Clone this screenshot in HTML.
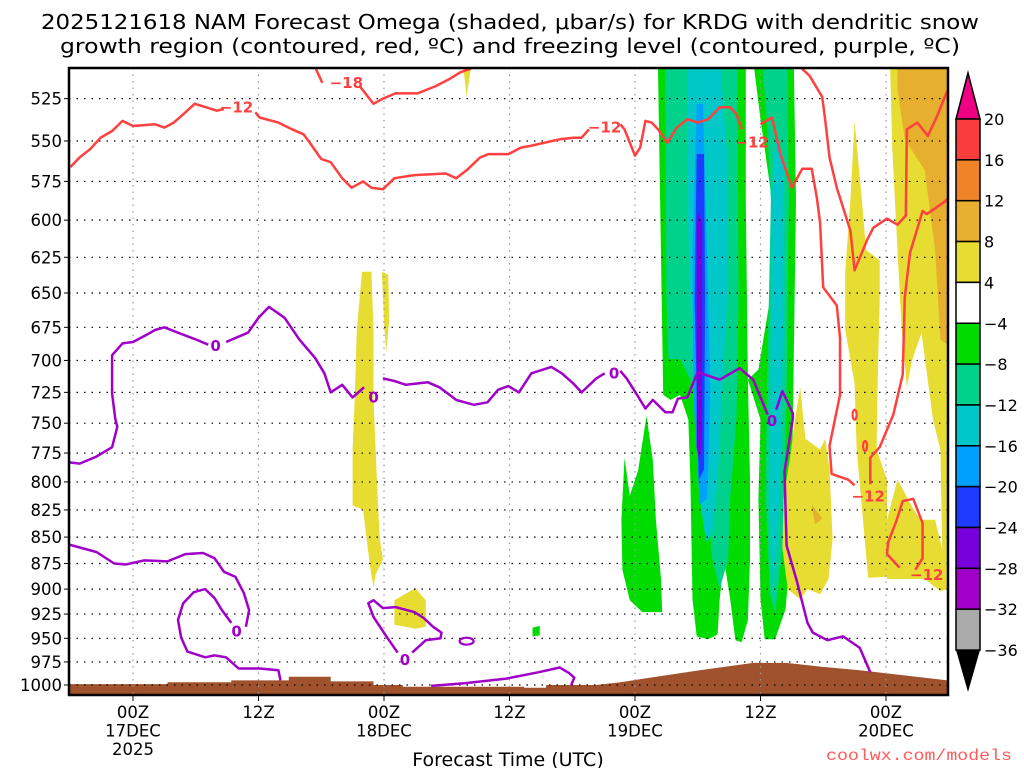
<!DOCTYPE html>
<html><head><meta charset="utf-8">
<style>
html,body{margin:0;padding:0;background:#fff;}
svg{display:block;font-family:"DejaVu Sans","Liberation Sans",sans-serif;}
</style></head>
<body>
<svg id="chart" width="1024" height="768" viewBox="0 0 1024 768" xmlns="http://www.w3.org/2000/svg">
<defs><clipPath id="plotclip"><rect x="69" y="68" width="879" height="627"/></clipPath></defs>
<text x="510" y="29" font-size="20" text-anchor="middle" textLength="938" lengthAdjust="spacingAndGlyphs">2025121618 NAM Forecast Omega (shaded, μbar/s) for KRDG with dendritic snow</text>
<text x="510" y="53" font-size="20" text-anchor="middle" textLength="900" lengthAdjust="spacingAndGlyphs">growth region (contoured, red, ºC) and freezing level (contoured, purple, ºC)</text>
<g id="shade" clip-path="url(#plotclip)"></g>
<g id="terrain" clip-path="url(#plotclip)"></g>
<g id="grid"></g>
<g id="contours" clip-path="url(#plotclip)"></g>
<g id="axes"></g>
<g id="cbar"></g>
<text x="508" y="766" font-size="19" text-anchor="middle">Forecast Time (UTC)</text>
<text x="1012" y="760" font-size="16" text-anchor="end" fill="#ff5a5a" textLength="186" lengthAdjust="spacingAndGlyphs" font-family="Liberation Mono, monospace">coolwx.com/models</text>
</svg>
<script>
// ---- axis data ----
const pressureTicks=[525,550,575,600,625,650,675,700,725,750,775,800,825,850,875,900,925,950,975,1000];
const hourTicks=[0,12,24,36,48,60,72];
const hourLabels=[["00Z","17DEC","2025"],["12Z"],["00Z","18DEC"],["12Z"],["00Z","19DEC"],["12Z"],["00Z","20DEC"]];
const cbarLevels=["20","16","12","8","4","−4","−8","−12","−16","−20","−24","−28","−32","−36"];
const cbarColors=["#fa3c3c","#f08228","#e6af2d","#e6dc32","#ffffff","#00dc00","#00d28c","#00c8c8","#00a0ff","#1e3cff","#7800dc","#a000c8","#aaaaaa"];
// ---- omega shading polygons [hour, hPa] ----
const greenMainBand=[[50.2,508],[58.6,508],[58.6,587],[58.8,715],[59.0,798],[59.0,871],[58.8,931],[58.2,954],[57.6,952],[57.1,910],[56.5,871],[56.1,910],[55.9,946],[55.0,951],[53.9,948],[53.5,910],[53.3,798],[53.1,747],[52.3,727],[51.4,731],[50.7,727],[50.6,677],[50.4,587]];
const greenRightBand=[[59.4,508],[63.2,508],[63.4,587],[63.2,692],[63.1,747],[63.0,815],[62.8,871],[62.4,920],[61.4,951],[60.4,951],[60.0,910],[59.8,815],[60.0,747],[58.8,715],[59.8,707],[60.9,655],[61.1,587],[60.0,537]];
const greenLeftBlob=[[47.0,779],[47.5,812],[48.3,790],[49.1,744],[49.7,781],[50.0,834],[50.5,891],[50.6,923],[48.7,923],[47.5,911],[46.8,881],[46.7,834]];
const greenSmall=[[38.2,939],[38.9,937],[38.9,947],[38.2,948]];
const tealMain=[[50.9,508],[57.8,508],[57.9,655],[57.7,747],[57.1,815],[56.9,871],[56.1,900],[55.4,871],[54.7,798],[54.2,747],[53.3,715],[52.3,699],[51.2,699],[51.0,655]];
const tealRight=[[60.2,508],[62.6,508],[62.7,587],[62.5,731],[62.1,861],[61.4,925],[60.9,905],[60.5,815],[60.6,731],[61.0,587],[60.6,537]];
const cyanMain=[[53.0,508],[56.2,508],[56.8,560],[56.8,655],[56.3,731],[55.9,798],[55.4,845],[54.8,855],[54.2,815],[53.6,731],[53.3,655],[53.0,587]];
const cyanRight=[[61.4,545],[62.2,560],[62.2,655],[62.0,772],[61.5,871],[61.1,900],[60.9,815],[61.0,692],[61.1,587]];
const lightBlueCore=[[53.9,528],[54.5,528],[55.0,655],[55.2,731],[54.9,815],[54.2,820],[53.6,731],[53.5,620]];
const blueCore=[[53.9,558],[54.6,558],[54.7,655],[54.6,789],[54.1,798],[53.7,655]];
const purpleCore=[[54.1,595],[54.4,602],[54.4,770],[54.1,780],[53.9,770],[53.9,602]];
const yellowMid=[[21.9,635],[22.8,635],[23.0,677],[23.0,731],[23.2,772],[23.4,815],[23.6,852],[23.9,871],[23.2,886],[23.0,898],[22.7,880],[22.4,857],[22.0,825],[21.0,821],[21.0,772],[21.2,731],[21.4,677]];
const yellowThin=[[23.8,635],[24.4,637],[24.5,670],[24.2,694],[24.0,670]];
const yellowTop=[[31.6,508],[32.3,508],[31.9,524]];
const yellowBlock=[[25.0,911],[27.0,899],[28.0,911],[28.0,938],[27.0,940],[25.0,936]];
const yellowCol=[[69.0,538],[69.7,587],[70.1,620],[71.4,627],[71.4,655],[71.2,718],[71.1,772],[72.1,798],[72.1,888],[70.3,889],[69.8,834],[69.2,772],[69.0,718],[68.1,677],[68.1,635],[68.6,587]];
const yellowLow=[[63.8,721],[64.3,763],[65.7,772],[66.2,763],[66.6,789],[66.9,852],[66.5,890],[65.7,905],[64.5,900],[63.8,910],[62.6,900],[62.1,861],[62.2,815],[62.8,780],[63.3,747]];
const yellowRight=[[72.4,508],[77.9,508],[77.9,906],[77.4,871],[77.2,772],[76.5,747],[75.4,679],[74.5,700],[74.0,721],[73.5,677],[73.1,620],[72.6,555]];
const yellowBottom=[[73.1,798],[74.6,824],[75.3,834],[76.7,834],[77.6,871],[77.9,900],[77.2,902],[75.7,890],[72.1,890],[72.1,834]];
const goldTop=[[73.1,508],[77.9,508],[77.9,688],[77.2,684],[76.7,620],[75.7,568],[73.8,549],[73.1,520]];
const goldDot=[[64.9,820],[65.9,833],[65.2,838]];
// ---- terrain ----
const terrainTop=[[-6.1,999],[3.3,999],[3.3,997],[9.4,997],[9.4,995],[14.9,995],[14.9,991],[18.9,991],[18.9,996],[23.0,996],[23.0,1000],[25.8,1000],[25.8,1002],[37.4,1002],[37.4,1003],[39.5,1003],[39.5,1000],[44.3,1000],[46.6,997],[49.4,992],[54.2,984],[59.3,976],[62.5,976],[65.7,980],[69.5,984],[77.9,995]];
// ---- red -12/-18 contours ----
const red12a=[[-6.0,566],[-5.1,560],[-4.1,555],[-3.1,548],[-2.0,544],[-1.0,538],[0,541],[2.1,540],[3.0,542],[3.9,539],[5.0,533],[5.9,528],[7.0,530],[8.0,532],[8.7,531]];
const red12b=[[11.7,533],[12.1,536],[13.9,539],[15.2,543],[16.3,546],[16.9,551],[18.0,561],[18.9,563],[20.0,573],[20.9,579],[22.0,575],[22.8,579],[23.9,580],[25.0,573],[26.9,571],[29.9,570],[30.9,573],[31.9,568],[33.2,560],[34.0,558],[35.9,558],[37.1,554],[38.0,553],[40.8,549],[42.1,548],[42.9,548],[43.6,543]];
const red12c=[[46.6,540],[47.0,543],[48.0,559],[48.5,554],[49.0,538],[49.6,539],[50.2,543],[51.1,551],[52.0,542],[53.0,537],[54.0,539],[55.0,537],[56.1,530],[57.1,530],[57.7,534],[58.2,543]];
const red12d=[[60.0,540],[61.1,536],[61.9,558],[63.0,579],[64.0,567],[64.9,567],[65.4,586],[65.7,602],[66.0,646],[67.3,659],[67.6,683],[67.6,727],[66.6,769],[66.8,793],[68.4,798],[69.0,803]];
const red12e=[[70.5,802],[70.5,779],[71.4,770],[72.7,743],[73.6,711],[73.8,653],[74.3,622],[75.5,594],[75.9,596],[77.6,588],[77.9,586]];
const red12f=[[63.8,507],[64.7,512],[65.9,524],[66.2,538],[66.6,560],[67.3,579],[68.6,607],[69.0,634],[70.2,613],[70.8,605],[72.1,599],[73.1,603],[73.9,597],[74.0,543],[75.0,539],[76.0,547],[76.9,535],[77.9,520]];
const red12g=[[73.3,879],[72.1,866],[72.2,855],[73.0,835],[73.6,817],[74.6,815],[75.5,837],[75.5,870],[74.8,881]];
const red18a=[[17.4,507],[18.1,516]];
const red18b=[[21.7,518],[23.0,528],[23.9,525],[25.1,522],[27.2,522],[28.9,518],[30.2,514],[31.3,510],[32.3,508]];
const redOvals=[[69.0,743],[70.0,769]];
const redLabelPos=[[9.9,530],[45.1,542],[59.2,551],[70.3,813],[75.9,886],[20.4,516]];
const redLabelText=["−12","−12","−12","−12","−12","−18"];
// ---- purple 0C contours ----
const frz1a=[[-6.1,783],[-5.1,784],[-3.5,778],[-2.0,770],[-1.5,753],[-1.7,746],[-2.0,726],[-2.0,696],[-1.0,687],[0,686],[1.2,681],[2.1,677],[3.0,675],[4.3,679],[6.0,684],[7.2,688]];
const frz1b=[[8.9,686],[11.0,679],[12.0,668],[13.0,660],[14.5,668],[15.9,684],[17.4,698],[18.3,710],[18.9,725],[20.0,719],[21.0,729],[22.1,721]];
const frz1c=[[23.9,714],[25.0,716],[26.1,719],[28.2,717],[29.3,721],[30.9,731],[32.6,735],[33.9,733],[34.9,723],[35.9,720],[36.9,725],[38.1,710],[40.0,705],[41.0,710],[42.1,718],[42.9,725],[44.3,714],[45.1,710]];
const frz1d=[[46.6,708],[47.2,714],[48.2,727],[49.0,738],[49.7,731],[50.9,741],[51.6,741],[52.1,730],[53.0,729],[54.0,709],[56.1,715],[58.0,706],[59.3,715],[60.7,743]];
const frz1e=[[61.5,739],[62.1,724],[63.1,742],[63.1,746],[62.3,791],[62.5,858],[63.5,893],[64.5,934],[65.0,944],[66.4,952],[67.9,948],[69.5,960],[70.5,986]];
const frz2a=[[-6.1,857],[-3.5,864],[-1.8,875],[-0.7,876],[1.1,872],[3.3,873],[5.0,866],[6.7,865],[7.8,870],[8.7,883],[9.8,888],[10.6,904],[11.1,921],[10.8,938]];
const frz2b=[[9.4,934],[8.5,921],[7.8,909],[6.9,900],[5.8,903],[4.8,914],[4.3,931],[4.6,949],[5.2,964],[6.9,970],[7.8,968],[8.9,970],[10.1,982],[12.1,982],[13.9,984],[14.1,995]];
const frz3=[[25.3,965],[24.3,949],[23.0,928],[22.5,914],[23.0,911],[23.9,919],[25.1,918],[26.9,923],[27.8,929],[28.7,938],[29.5,944],[29.4,950],[28.0,952],[26.7,965]];
const frz4=[[28.5,1001],[31.7,998],[35.7,993],[38.8,986],[40.8,981],[41.7,987],[42.2,992],[41.9,1000]];
const frzOval=[[31.9,953]];
const frzLabelPos=[[7.9,689],[23.0,729],[46.0,710],[61.1,748],[9.9,943],[26.0,973]];

const NS='http://www.w3.org/2000/svg';
function X(h){return 133+h*10.458;}
function Y(p){return 685-910*Math.log(1000/p);}
function pts(a){return a.map(d=>X(d[0]).toFixed(1)+','+Y(d[1]).toFixed(1)).join(' ');}
function mk(tag,parent){const e=document.createElementNS(NS,tag);parent.appendChild(e);return e;}

const shade=document.getElementById('shade');
const layers=[
 [greenMainBand,'#00dc00','omega-green-main'],[greenRightBand,'#00dc00','omega-green-right'],[greenLeftBlob,'#00dc00','omega-green-left'],[greenSmall,'#00dc00','omega-green-small'],
 [tealMain,'#00d28c','omega-teal-main'],[tealRight,'#00d28c','omega-teal-right'],
 [cyanMain,'#00c8c8','omega-cyan-main'],[cyanRight,'#00c8c8','omega-cyan-right'],
 [lightBlueCore,'#00a0ff','omega-lightblue-core'],[blueCore,'#1e3cff','omega-blue-core'],[purpleCore,'#7800dc','omega-purple-core'],
 [yellowMid,'#e6dc32','omega-yellow-mid'],[yellowThin,'#e6dc32','omega-yellow-thin'],[yellowTop,'#e6dc32','omega-yellow-top'],[yellowBlock,'#e6dc32','omega-yellow-block'],
 [yellowCol,'#e6dc32','omega-yellow-column'],[yellowLow,'#e6dc32','omega-yellow-low'],[yellowRight,'#e6dc32','omega-yellow-right'],[yellowBottom,'#e6dc32','omega-yellow-bottom'],
 [goldTop,'#e6af2d','omega-gold-top'],[goldDot,'#e6af2d','omega-gold-dot']];
layers.forEach(L=>{
 const el=mk('polygon',shade);
 el.setAttribute('points',pts(L[0]));
 el.setAttribute('fill',L[1]);
 
 
});

const terr=document.getElementById('terrain');
const tp=mk('polygon',terr);
tp.setAttribute('points',pts(terrainTop.concat([[77.9,1012],[-6.1,1012]])));
tp.setAttribute('fill','#a0522d');



const grid=document.getElementById('grid');
const axes=document.getElementById('axes');
pressureTicks.forEach(p=>{
 const l=mk('line',grid);
 l.setAttribute('x1',69);l.setAttribute('x2',948);l.setAttribute('y1',Y(p));l.setAttribute('y2',Y(p));
 l.setAttribute('stroke','#000');l.setAttribute('stroke-width','1.2');l.setAttribute('stroke-dasharray','1.5 6');
 
 
 const t=mk('line',axes);
 t.setAttribute('x1',64);t.setAttribute('x2',69);t.setAttribute('y1',Y(p));t.setAttribute('y2',Y(p));t.setAttribute('stroke','#000');
 
 
 const tx=mk('text',axes);
 tx.setAttribute('x',62);tx.setAttribute('y',Y(p)+6);tx.setAttribute('font-size','16.5');tx.setAttribute('text-anchor','end');
 tx.textContent=String(p);
 
 
});
hourTicks.forEach((h,i)=>{
 const l=mk('line',grid);
 l.setAttribute('x1',X(h));l.setAttribute('x2',X(h));l.setAttribute('y1',68);l.setAttribute('y2',695);
 l.setAttribute('stroke','#999');l.setAttribute('stroke-width','1.2');l.setAttribute('stroke-dasharray','1.5 5');
 
 
 const t=mk('line',axes);
 t.setAttribute('x1',X(h));t.setAttribute('x2',X(h));t.setAttribute('y1',695);t.setAttribute('y2',701);t.setAttribute('stroke','#000');
 
 
 hourLabels[i].forEach((s,j)=>{
  const tx=mk('text',axes);
  tx.setAttribute('x',X(h));tx.setAttribute('y',718+j*18.5);tx.setAttribute('font-size','16.5');tx.setAttribute('text-anchor','middle');
  tx.textContent=s;
  
  
 });
});

const cont=document.getElementById('contours');
function line(a,color,name){
 const el=mk('polyline',cont);
 el.setAttribute('points',pts(a));el.setAttribute('fill','none');el.setAttribute('stroke',color);
 el.setAttribute('stroke-width','2.5');el.setAttribute('stroke-linejoin','round');
 
 
}
[red12a,red12b,red12c,red12d,red12e,red12f,red12g].forEach(a=>line(a,'#ff4040','dendritic-minus12-contour'));
[red18a,red18b].forEach(a=>line(a,'#ff4040','dendritic-minus18-contour'));
[frz1a,frz1b,frz1c,frz1d,frz1e,frz2a,frz2b,frz3,frz4].forEach(a=>line(a,'#a000c8','freezing-level-contour'));
redOvals.forEach(d=>{
 const e=mk('ellipse',cont);
 e.setAttribute('cx',X(d[0]));e.setAttribute('cy',Y(d[1]));e.setAttribute('rx',2);e.setAttribute('ry',5);
 e.setAttribute('fill','none');e.setAttribute('stroke','#ff4040');e.setAttribute('stroke-width','2.2');
 
 
});
frzOval.forEach(d=>{
 const e=mk('ellipse',cont);
 e.setAttribute('cx',X(d[0]));e.setAttribute('cy',Y(d[1]));e.setAttribute('rx',7);e.setAttribute('ry',3.5);
 e.setAttribute('fill','none');e.setAttribute('stroke','#a000c8');e.setAttribute('stroke-width','2.2');
 
 
});
redLabelPos.forEach((d,i)=>{
 const t=mk('text',cont);
 t.setAttribute('x',X(d[0]));t.setAttribute('y',Y(d[1])+5);t.setAttribute('font-size','15');t.setAttribute('font-weight','bold');
 t.setAttribute('text-anchor','middle');t.setAttribute('fill','#ff4040');
 t.textContent=redLabelText[i];
 
 
});
frzLabelPos.forEach(d=>{
 const t=mk('text',cont);
 t.setAttribute('x',X(d[0]));t.setAttribute('y',Y(d[1])+5);t.setAttribute('font-size','15');t.setAttribute('font-weight','bold');
 t.setAttribute('text-anchor','middle');t.setAttribute('fill','#a000c8');
 t.textContent='0';
 
 
});

const frame=mk('rect',axes);
frame.setAttribute('x',69);frame.setAttribute('y',68);frame.setAttribute('width',879);frame.setAttribute('height',627);
frame.setAttribute('fill','none');frame.setAttribute('stroke','#000');frame.setAttribute('stroke-width','2.5');



// colorbar
const cb=document.getElementById('cbar');
const cbTop=119, cbH=40.85, cbX=956, cbW=24;
const up=mk('polygon',cb);
up.setAttribute('points',`${cbX},${cbTop} ${cbX+cbW},${cbTop} ${cbX+cbW/2},73`);
up.setAttribute('fill','#f00082');up.setAttribute('stroke','#000');up.setAttribute('stroke-width','1.5');


cbarColors.forEach((c,i)=>{
 const r=mk('rect',cb);
 r.setAttribute('x',cbX);r.setAttribute('y',cbTop+i*cbH);r.setAttribute('width',cbW);r.setAttribute('height',cbH);
 r.setAttribute('fill',c);r.setAttribute('stroke','#000');r.setAttribute('stroke-width','1.5');
 
 
});
const bot=cbTop+cbarColors.length*cbH;
const dn=mk('polygon',cb);
dn.setAttribute('points',`${cbX},${bot} ${cbX+cbW},${bot} ${cbX+cbW/2},692`);
dn.setAttribute('fill','#000');


cbarLevels.forEach((s,i)=>{
 const t=mk('text',cb);
 t.setAttribute('x',984);t.setAttribute('y',cbTop+i*cbH+6);t.setAttribute('font-size','16');
 t.textContent=s;
 
 
});
</script>
</body></html>
